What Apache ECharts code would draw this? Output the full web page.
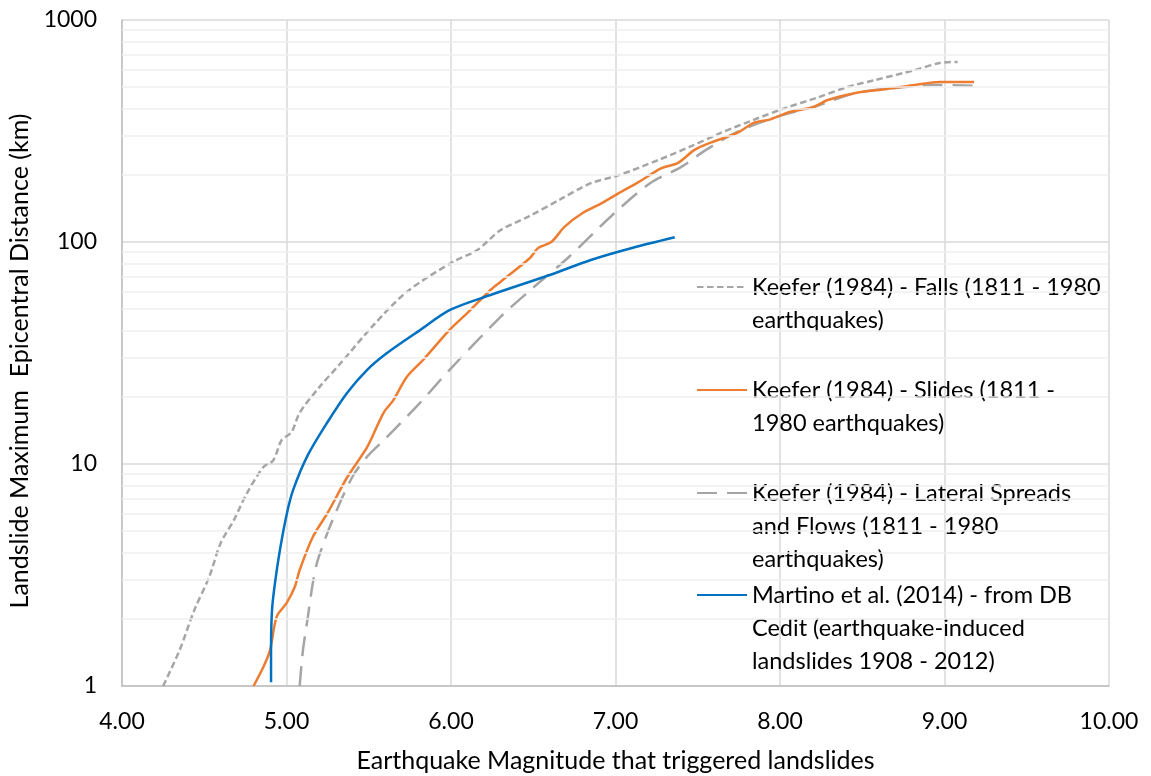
<!DOCTYPE html>
<html>
<head>
<meta charset="utf-8">
<script src="https://cdn.jsdelivr.net/npm/echarts@6/dist/echarts.min.js"></script>
<style>
  html, body { margin: 0; padding: 0; background: #fff; }
  #main { width: 1151px; height: 776px; }
</style>
</head>
<body>
<div id="main"></div>
<script>
// [magnitude, distance km]
var fallsData = [[4.25,1.00],[4.35,1.45],[4.44,2.20],[4.53,3.10],[4.60,4.41],[4.68,5.59],[4.76,7.40],[4.86,9.69],[4.92,10.4],[4.97,12.8],[5.03,13.9],[5.08,17.0],[5.20,22.2],[5.33,28.5],[5.53,42.3],[5.73,59.5],[6.01,81.3],[6.16,92.0],[6.30,113],[6.47,130],[6.66,155],[6.85,184],[7.02,200],[7.26,234],[7.45,268],[7.64,310],[7.84,355],[8.03,401],[8.22,445],[8.41,499],[8.58,537],[8.82,595],[8.97,640],[9.08,647]];
var slidesData = [[4.80,1.00],[4.86,1.22],[4.90,1.45],[4.94,2.05],[5.00,2.36],[5.05,2.79],[5.08,3.33],[5.16,4.69],[5.25,6.02],[5.37,8.74],[5.49,11.9],[5.59,17.0],[5.65,19.4],[5.73,24.6],[5.83,29.4],[5.99,40.1],[6.10,47.9],[6.24,60.8],[6.30,66.1],[6.48,84.7],[6.53,94.0],[6.61,100],[6.69,117],[6.80,135],[6.92,150],[7.02,166],[7.14,186],[7.28,215],[7.38,227],[7.48,260],[7.57,279],[7.74,310],[7.84,344],[7.93,355],[8.06,385],[8.20,405],[8.29,436],[8.46,469],[8.65,489],[8.82,510],[8.97,526],[9.18,526]];
var spreadsData = [[5.08,1.00],[5.10,1.45],[5.13,2.05],[5.16,2.91],[5.19,3.69],[5.28,5.59],[5.40,8.74],[5.49,10.8],[5.61,13.2],[5.81,18.8],[5.99,26.5],[6.30,45.9],[6.48,60.5],[6.71,84.7],[6.97,130],[7.21,184],[7.40,218],[7.55,260],[7.74,313],[7.98,366],[8.20,405],[8.46,469],[8.70,494],[8.94,510],[9.20,505]];
var martinoData = [[4.906,1.04],[4.906,1.45],[4.912,2.20],[4.93,2.91],[4.96,4.10],[5.003,6.02],[5.04,7.63],[5.125,10.8],[5.246,15.3],[5.368,20.9],[5.489,26.5],[5.611,31.6],[5.812,40.1],[5.994,49.4],[6.24,57.7],[6.6,71],[6.85,83],[7.1,94],[7.36,105]];

var minorTicks = [2,3,4,5,6,7,8,9,20,30,40,50,60,70,80,90,200,300,400,500,600,700,800,900];

var names = [
    'Keefer (1984) - Falls (1811 - 1980 earthquakes)',
    'Keefer (1984) - Slides (1811 - 1980 earthquakes)',
    'Keefer (1984) - Lateral Spreads and Flows (1811 - 1980 earthquakes)',
    'Martino et al. (2014) - from DB Cedit (earthquake-induced landslides 1908 - 2012)'
];
// wrapped legend text, blank lines on top keep the icon on the first line
var legendText = [
    ' \nKeefer (1984) - Falls (1811 - 1980\nearthquakes)',
    ' \nKeefer (1984) - Slides (1811 -\n1980 earthquakes)',
    ' \n \nKeefer (1984) - Lateral Spreads\nand Flows (1811 - 1980\nearthquakes)',
    ' \n \nMartino et al. (2014) - from DB\nCedit (earthquake-induced\nlandslides 1908 - 2012)'
];
var legendTop = [237.5, 340.5, 410.5, 512.5];

var FONT = 'Lato';

var myChart = echarts.init(document.getElementById('main'));

var legends = names.map(function (n, i) {
    return {
        data: [n],
        left: 696,
        top: legendTop[i],
        padding: 0,
        itemWidth: 50,
        itemHeight: 14,
        selectedMode: false,
        itemStyle: { opacity: 0 },
        formatter: function () { return legendText[i]; },
        textStyle: { fontFamily: FONT, fontSize: 23.5, color: '#000', lineHeight: 33 }
    };
});

var lineSeries = function (name, data, color, dash, z) {
    return {
        name: name,
        type: 'line',
        data: data,
        smooth: 0.3,
        symbol: 'none',
        z: z,
        lineStyle: { color: color, width: 2.5, type: dash },
        itemStyle: { color: color }
    };
};

var option = {
    animation: false,
    backgroundColor: '#fff',
    grid: { left: 122, right: 42, top: 20, bottom: 90, containLabel: false, outerBoundsMode: 'none' },
    legend: legends,
    xAxis: {
        type: 'value',
        min: 4,
        max: 10,
        interval: 1,
        name: 'Earthquake Magnitude that triggered landslides',
        nameLocation: 'middle',
        nameGap: 62,
        nameTextStyle: { fontFamily: FONT, fontSize: 25, color: '#000' },
        axisLine: { show: true, lineStyle: { color: '#bfbfbf', width: 1.5 } },
        axisTick: { show: false },
        axisLabel: {
            margin: 24,
            fontFamily: FONT, fontSize: 23, color: '#000',
            formatter: function (v) { return v.toFixed(2); }
        },
        splitLine: { show: true, lineStyle: { color: '#d9d9d9', width: 1.5 } }
    },
    yAxis: {
        type: 'log',
        logBase: 10,
        min: 1,
        max: 1000,
        name: 'Landslide Maximum  Epicentral Distance (km)',
        nameLocation: 'middle',
        nameGap: 87,
        nameTextStyle: { fontFamily: FONT, fontSize: 25, color: '#000', padding: [0, 16, 0, 0] },
        axisLine: { show: true, lineStyle: { color: '#bfbfbf', width: 1.5 } },
        axisTick: { show: false },
        axisLabel: {
            margin: 25, fontFamily: FONT, fontSize: 23, color: '#000',
            formatter: function (v) { return String(Math.round(v)); }
        },
        splitLine: { show: true, lineStyle: { color: '#d9d9d9', width: 1.5 } }
    },
    series: [
        {
            name: 'minor',
            type: 'line',
            data: [],
            z: 1,
            silent: true,
            markLine: {
                silent: true,
                symbol: ['none', 'none'],
                label: { show: false },
                emphasis: { disabled: true },
                lineStyle: { color: '#efefef', type: 'solid', width: 1.5 },
                data: minorTicks.map(function (v) { return { yAxis: v }; })
            }
        },
        lineSeries(names[0], fallsData, '#a6a6a6', [6.5, 3.5], 3),
        lineSeries(names[1], slidesData, '#ed7d31', 'solid', 4),
        lineSeries(names[2], spreadsData, '#a5a5a5', [20, 10], 3),
        lineSeries(names[3], martinoData, '#0070c0', 'solid', 5)
    ]
};

myChart.setOption(option);
</script>
</body>
</html>
